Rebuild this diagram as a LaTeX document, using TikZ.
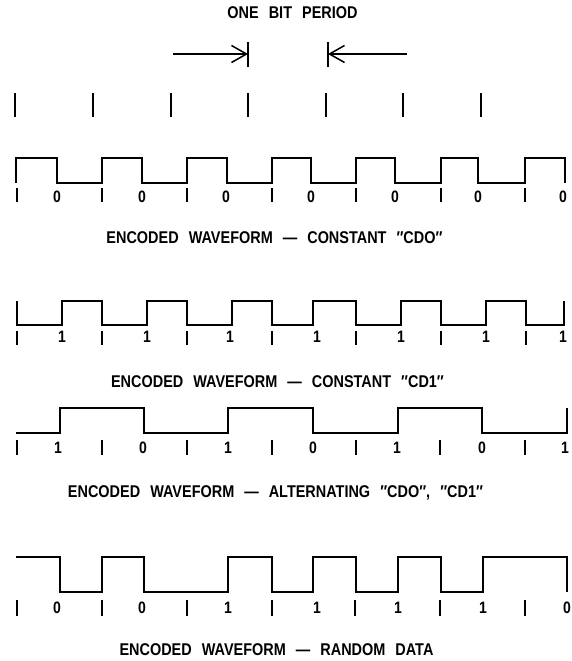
\documentclass[tikz,border=0pt]{standalone}
\usepackage{fontspec}
\setmainfont{Liberation Sans}[FakeStretch=0.85,WordSpace=2.5]
\usetikzlibrary{arrows.meta}
\begin{document}
\begin{tikzpicture}[x=1pt,y=-1pt,
  wave/.style={line width=1.5pt, line join=miter},
  tickmark/.style={line width=1.7pt},
  captext/.style={font=\fontsize{17}{20}\selectfont\bfseries, anchor=base, inner sep=0pt},
  bitlabel/.style={font=\fontsize{16.5}{18}\selectfont\bfseries, anchor=base, inner sep=0pt},
  period/.style={line width=1.3pt},
]
\useasboundingbox (0,0) rectangle (571,661);

% title and bit period arrows
\node[captext] (title) at (292.5,19) {ONE BIT PERIOD};
\coordinate (ra) at (173,54); \coordinate (rb) at (248,54);
\coordinate (rbt) at (248,42); \coordinate (rbb) at (248,67);
\coordinate (la) at (407,54); \coordinate (lb) at (328,54);
\coordinate (lbt) at (328,42); \coordinate (lbb) at (328,67);
\draw[period,-{Straight Barb[length=15pt,width=17pt,line width=1.5pt]}] (ra) -- (rb);
\draw[period] (rbt) -- (rbb);
\draw[period,-{Straight Barb[length=15pt,width=17pt,line width=1.5pt]}] (la) -- (lb);
\draw[period] (lbt) -- (lbb);

% top ticks
\foreach \x in {15,93,171,248,326,403,481}
  \draw[tickmark] (\x,93) -- (\x,117);

% ---------- row 1 : constant CD0
\draw[wave] (16,183) -- (16,158) -- (57,158) -- (57,183) -- (102,183) -- (102,158)
  -- (142,158) -- (142,183) -- (187,183) -- (187,158) -- (227,158) -- (227,183)
  -- (272,183) -- (272,158) -- (311,158) -- (311,183) -- (356,183) -- (356,158)
  -- (395,158) -- (395,183) -- (441,183) -- (441,158) -- (478,158) -- (478,183)
  -- (525,183) -- (525,158) -- (565,158) -- (565,183);
\foreach \x in {17,102,187,272,356,441,525}
  \draw[tickmark] (\x,188) -- (\x,202);
\foreach \x/\t [count=\i] in {57/0,142/0,226/0,311/0,395/0,478/0,563/0}
  \node[bitlabel] (ra\i) at (\x,202) {\t};
\node[captext] (cap1) at (274.5,243) {ENCODED WAVEFORM --- CONSTANT ″CDO″};

% ---------- row 2 : constant CD1
\draw[wave] (17,301) -- (17,325) -- (62,325) -- (62,301) -- (102,301) -- (102,325)
  -- (147,325) -- (147,301) -- (187,301) -- (187,325) -- (232,325) -- (232,301)
  -- (272,301) -- (272,325) -- (313,325) -- (313,301) -- (356,301) -- (356,325)
  -- (401,325) -- (401,301) -- (441,301) -- (441,325) -- (486,325) -- (486,301)
  -- (526,301) -- (526,325) -- (564,325) -- (564,301);
\foreach \x in {17,102,187,272,356,441,526}
  \draw[tickmark] (\x,331) -- (\x,345);
\foreach \x/\t [count=\i] in {62/1,147/1,230/1,317/1,401/1,486/1,563/1}
  \node[bitlabel] (rb\i) at (\x,342) {\t};
\node[captext] (cap2) at (277.5,387) {ENCODED WAVEFORM --- CONSTANT ″CD1″};

% ---------- row 3 : alternating
\draw[wave] (16,433) -- (60,433) -- (60,408) -- (144,408) -- (144,433) -- (228,433)
  -- (228,408) -- (313,408) -- (313,433) -- (398,433) -- (398,408) -- (482,408)
  -- (482,433) -- (567,433) -- (567,408);
\foreach \x in {17,102,187,272,356,440,525}
  \draw[tickmark] (\x,440) -- (\x,455);
\foreach \x/\t [count=\i] in {58/1,143/0,228/1,313/0,397/1,482/0,565/1}
  \node[bitlabel] (rc\i) at (\x,453) {\t};
\node[captext] (cap3) at (275.5,497) {ENCODED WAVEFORM --- ALTERNATING ″CDO″, ″CD1″};

% ---------- row 4 : random data
\draw[wave] (16,557) -- (60,557) -- (60,592) -- (102,592) -- (102,557) -- (144,557)
  -- (144,592) -- (228,592) -- (228,557) -- (272,557) -- (272,592) -- (313,592)
  -- (313,557) -- (356,557) -- (356,592) -- (398,592) -- (398,557) -- (441,557)
  -- (441,592) -- (483,592) -- (483,557) -- (567,557) -- (567,592);
\foreach \x in {17,102,187,272,355,440,525}
  \draw[tickmark] (\x,600) -- (\x,616);
\foreach \x/\t [count=\i] in {57/0,142/0,228/1,317/1,398/1,483/1,567/0}
  \node[bitlabel] (rd\i) at (\x,613) {\t};
\node[captext] (cap4) at (276.5,655) {ENCODED WAVEFORM --- RANDOM DATA};
\end{tikzpicture}
\end{document}
